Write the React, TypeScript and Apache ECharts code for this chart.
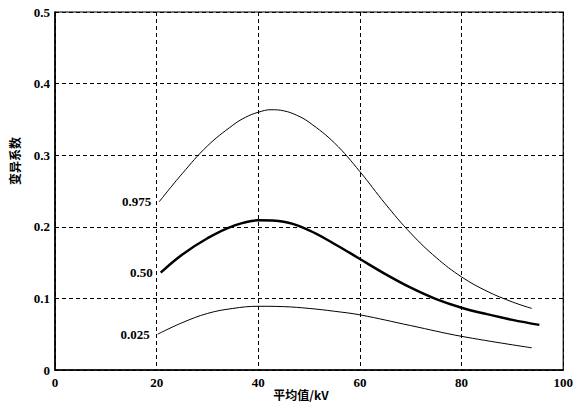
import React, { useEffect, useRef } from "react";
import * as echarts from "echarts";

const xTicks = [0, 20, 40, 60, 80, 100];
const yTicks = [0, 0.1, 0.2, 0.3, 0.4, 0.5];

const x975 = [20.5, 25, 30, 35, 37.5, 40, 42.5, 45, 47.5, 50, 55, 60, 65, 70, 75, 80, 85, 90, 93.8];
const v975 = [0.235, 0.274, 0.313, 0.342, 0.353, 0.36, 0.3635, 0.362, 0.356, 0.346, 0.317, 0.277, 0.232, 0.191, 0.157, 0.13, 0.11, 0.095, 0.086];

const x50 = [20.8, 25, 30, 35, 40, 45, 50, 55, 60, 65, 70, 75, 80, 85, 90, 95.3];
const v50 = [0.136, 0.161, 0.184, 0.201, 0.209, 0.207, 0.195, 0.176, 0.155, 0.134, 0.115, 0.099, 0.087, 0.078, 0.07, 0.063];

const x025 = [20.2, 25, 30, 35, 40, 45, 50, 55, 60, 70, 80, 93.8];
const v025 = [0.05, 0.066, 0.079, 0.086, 0.089, 0.0885, 0.086, 0.082, 0.077, 0.062, 0.047, 0.031];

const seriesNames = ["0.975", "0.50", "0.025"];
const xAxisName = "平均值/kV";
const yAxisName = "变异系数";

const SERIF = "'Liberation Serif', 'Times New Roman', serif";
const CJK = "'Noto Sans CJK SC', sans-serif";

function build(xs: number[], vs: number[], label: string) {
  return xs.map((x, i) =>
    i === 0
      ? {
          value: [x, vs[i]],
          label: {
            show: true,
            position: "left",
            distance: 8,
            formatter: label,
            color: "#000",
            fontFamily: SERIF,
            fontWeight: "bold",
            fontSize: 13,
          },
        }
      : { value: [x, vs[i]] }
  );
}

export default function App() {
  const ref = useRef<HTMLDivElement>(null);
  useEffect(() => {
    if (!ref.current) return;
    const chart = echarts.init(ref.current, undefined, { renderer: "svg" });
    const lineSeries = (xs: number[], vs: number[], name: string, width: number) => ({
      type: "line",
      name,
      data: build(xs, vs, name),
      smooth: 0.4,
      symbol: "circle",
      symbolSize: 0,
      showSymbol: true,
      lineStyle: { color: "#000", width },
      itemStyle: { color: "#000" },
      z: 5,
    });
    chart.setOption({
      animation: false,
      backgroundColor: "#fff",
      grid: {
        left: 55,
        top: 12,
        right: 9,
        bottom: 36,
        show: true,
        borderColor: "#000",
        borderWidth: 1.2,
      },
      xAxis: {
        type: "value",
        min: 0,
        max: 100,
        interval: 20,
        axisLine: { show: true, lineStyle: { color: "#000", width: 1.5 } },
        axisTick: { show: false },
        axisLabel: {
          color: "#000",
          fontFamily: SERIF,
          fontWeight: "bold",
          fontSize: 13,
          margin: 6,
          formatter: (v: number) => (xTicks.includes(v) ? String(v) : ""),
        },
        splitLine: { show: true, lineStyle: { color: "#000", type: [4, 3], width: 1 } },
      },
      yAxis: {
        type: "value",
        min: 0,
        max: 0.5,
        interval: 0.1,
        axisLine: { show: true, lineStyle: { color: "#000", width: 1.5 } },
        axisTick: { show: false },
        axisLabel: {
          color: "#000",
          fontFamily: SERIF,
          fontWeight: "bold",
          fontSize: 13,
          margin: 5,
          formatter: (v: number) => {
            const t = yTicks.find((y) => Math.abs(y - v) < 1e-9);
            return t === undefined ? "" : t === 0 ? "0" : t.toFixed(1);
          },
        },
        splitLine: { show: true, lineStyle: { color: "#000", type: [4, 3], width: 1 } },
      },
      graphic: [
        {
          type: "text",
          x: 14,
          y: 161,
          rotation: Math.PI / 2,
          style: {
            text: yAxisName,
            fill: "#000",
            font: `bold 12px ${CJK}`,
            textAlign: "center",
            textVerticalAlign: "middle",
          },
        },
        {
          type: "text",
          x: 301,
          y: 394,
          style: {
            text: xAxisName,
            fill: "#000",
            font: `bold 12px ${CJK}`,
            textAlign: "center",
            textVerticalAlign: "middle",
          },
        },
      ],
      series: [
        lineSeries(x975, v975, seriesNames[0], 1),
        lineSeries(x50, v50, seriesNames[1], 2.5),
        lineSeries(x025, v025, seriesNames[2], 1),
      ],
    });
    return () => chart.dispose();
  }, []);
  return (
    <div
      ref={ref}
      style={{ position: "fixed", left: 0, top: 0, width: 576, height: 406, background: "#fff" }}
    />
  );
}
